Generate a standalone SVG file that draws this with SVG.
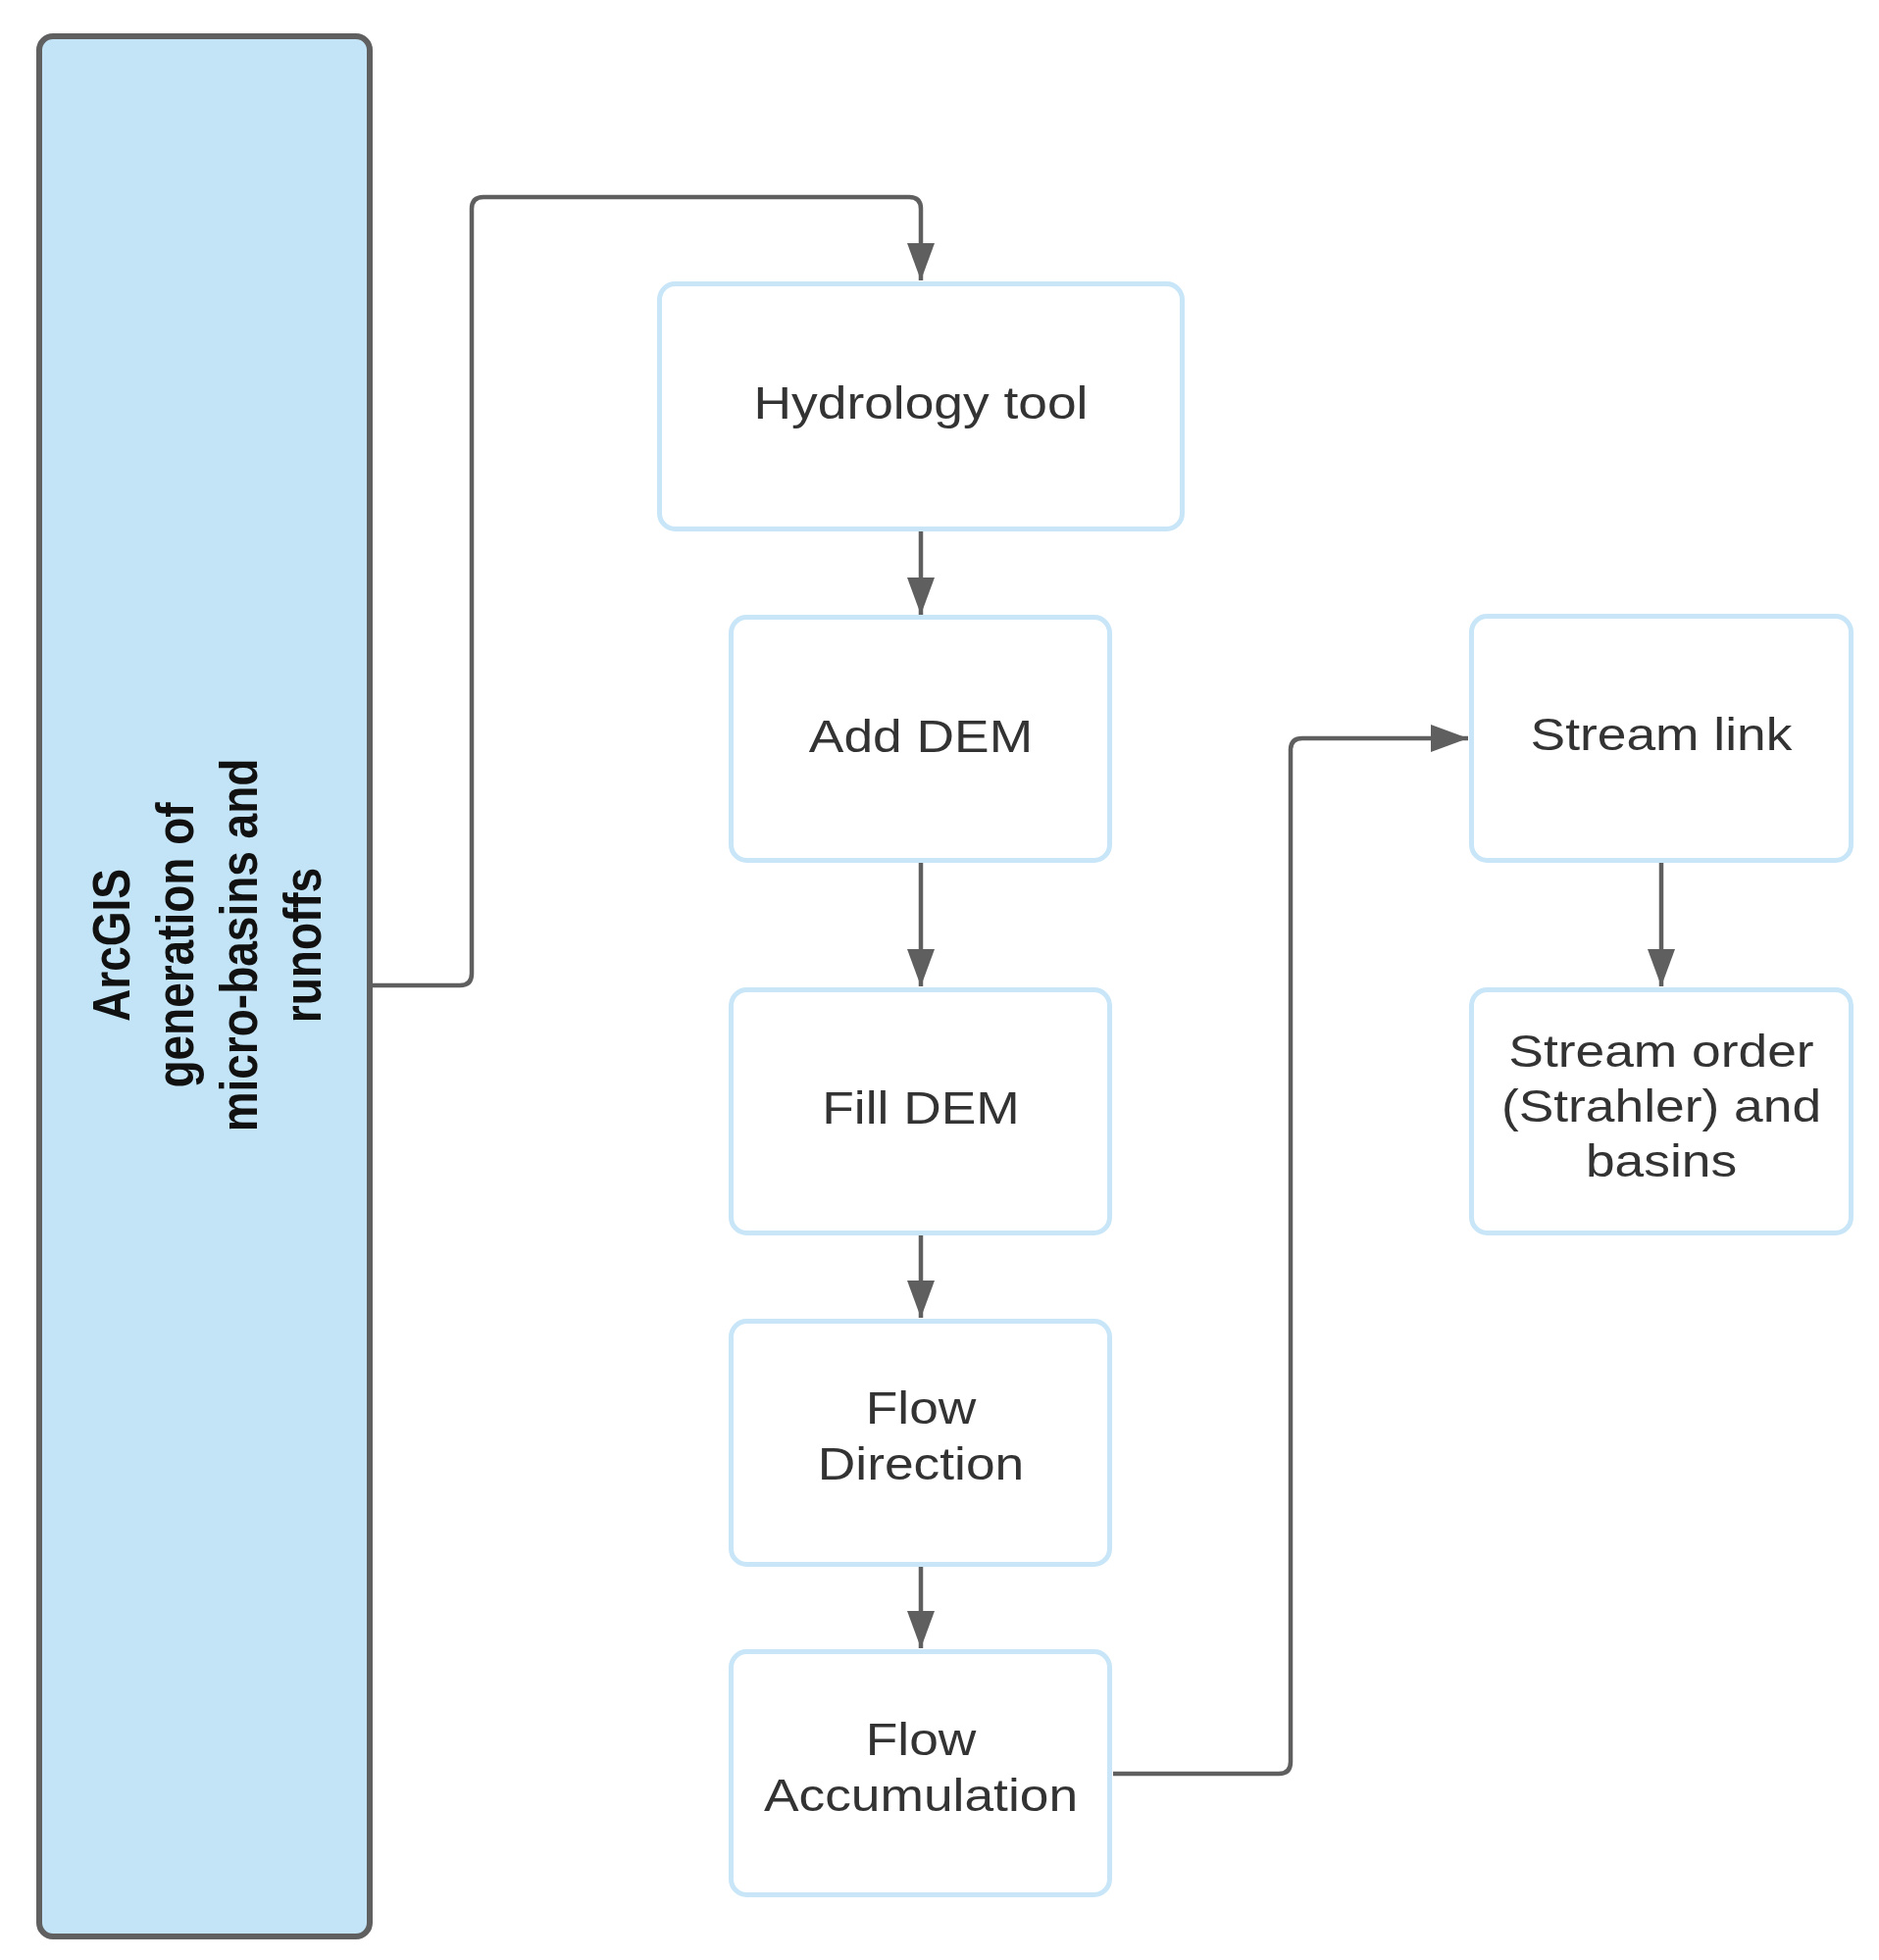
<svg xmlns="http://www.w3.org/2000/svg" width="1916" height="1999" viewBox="0 0 1916 1999">
  <style>
    .box { fill: #ffffff; stroke: #c8e6f8; stroke-width: 5; }
    .main { fill: #c2e4f6; stroke: #606060; stroke-width: 6; }
    .lbl { font-family: "Liberation Sans", Arial, sans-serif; font-size: 46px; fill: #333333; text-anchor: middle; }
    .vlbl { font-family: "Liberation Sans", Arial, sans-serif; font-size: 46px; font-weight: bold; fill: #111111; text-anchor: middle; }
    .conn { fill: none; stroke: #5f5f5f; stroke-width: 4.5; marker-end: url(#arrow); }
  </style>
  <defs>
    <marker id="arrow" viewBox="0 0 38 28" refX="38" refY="14" markerWidth="38" markerHeight="28" orient="auto" markerUnits="userSpaceOnUse">
      <path d="M0,0 L38,14 L0,28 z" fill="#5f5f5f"/>
    </marker>
  </defs>
  <rect width="1916" height="1999" fill="#ffffff"/>

  <g id="connectors">
    <path class="conn" d="M380,1005 H469 Q481,1005 481,993 V213 Q481,201 493,201 H927 Q939,201 939,213 V286"/>
    <path class="conn" d="M939,542 V627"/>
    <path class="conn" d="M939,880 V1006"/>
    <path class="conn" d="M939,1260 V1344"/>
    <path class="conn" d="M939,1598 V1681"/>
    <path class="conn" d="M1135,1809 H1304 Q1316,1809 1316,1797 V765 Q1316,753 1328,753 H1497"/>
    <path class="conn" d="M1694,880 V1006"/>
  </g>

  <g id="arcgis">
    <rect class="main" x="40" y="37" width="337" height="1938" rx="14"/>
    <g transform="translate(132,964) scale(1.16,1) rotate(-90)">
      <text class="vlbl" x="0" y="0">ArcGIS</text>
      <text class="vlbl" x="0" y="56">generation of</text>
      <text class="vlbl" x="0" y="112">micro-basins and</text>
      <text class="vlbl" x="0" y="168">runoffs</text>
    </g>
  </g>

  <g id="hydrology">
    <rect class="box" x="672.5" y="289.5" width="533" height="250" rx="16"/>
    <text class="lbl" transform="translate(939,427) scale(1.16,1)">Hydrology tool</text>
  </g>

  <g id="add-dem">
    <rect class="box" x="745.5" y="629.5" width="386" height="248" rx="16"/>
    <text class="lbl" transform="translate(939,767) scale(1.16,1)">Add DEM</text>
  </g>

  <g id="fill-dem">
    <rect class="box" x="745.5" y="1009.5" width="386" height="248" rx="16"/>
    <text class="lbl" transform="translate(939,1146) scale(1.16,1)">Fill DEM</text>
  </g>

  <g id="flow-direction">
    <rect class="box" x="745.5" y="1347.5" width="386" height="248" rx="16"/>
    <g transform="translate(939,1452) scale(1.16,1)">
      <text class="lbl" x="0" y="0">Flow</text>
      <text class="lbl" x="0" y="57">Direction</text>
    </g>
  </g>

  <g id="flow-accumulation">
    <rect class="box" x="745.5" y="1684.5" width="386" height="248" rx="16"/>
    <g transform="translate(939,1790) scale(1.16,1)">
      <text class="lbl" x="0" y="0">Flow</text>
      <text class="lbl" x="0" y="57">Accumulation</text>
    </g>
  </g>

  <g id="stream-link">
    <rect class="box" x="1500.5" y="628.5" width="387" height="249" rx="16"/>
    <text class="lbl" transform="translate(1694,765) scale(1.16,1)">Stream link</text>
  </g>

  <g id="stream-order">
    <rect class="box" x="1500.5" y="1009.5" width="387" height="248" rx="16"/>
    <g transform="translate(1694,1088) scale(1.16,1)">
      <text class="lbl" x="0" y="0">Stream order</text>
      <text class="lbl" x="0" y="56">(Strahler) and</text>
      <text class="lbl" x="0" y="112">basins</text>
    </g>
  </g>
</svg>
